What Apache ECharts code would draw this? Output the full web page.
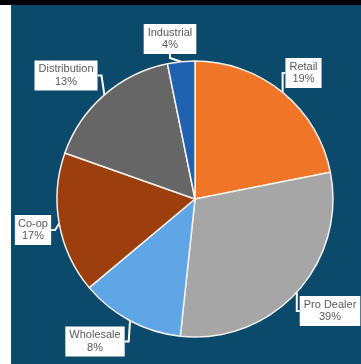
<!DOCTYPE html>
<html>
<head>
<meta charset="utf-8">
<script src="https://cdn.jsdelivr.net/npm/echarts@6/dist/echarts.min.js"></script>
<style>
html,body{margin:0;padding:0;background:#fff;}
#c{width:361px;height:364px;}
</style>
</head>
<body>
<div id="c"></div>
<script>
// Categories (clockwise from 12 o'clock)
var categories = ['Retail', 'Pro Dealer', 'Wholesale', 'Co-op', 'Distribution', 'Industrial'];
// Slice sizes as drawn in the picture (share of the circle, %)
var sliceValues = [21.9, 29.8, 12.2, 16.5, 16.4, 3.2];
// Percent labels printed on the chart
var percentLabels = ['19%', '39%', '8%', '17%', '13%', '4%'];
var colors = ['#F07526', '#A6A6A6', '#5EA6E6', '#9C3F0C', '#666666', '#1F62B0'];

// label box centres (layout only)
var labelPos = [[303.5, 73], [330, 311], [95, 341.5], [33, 230], [66, 75.5], [170, 39]];

var chart = echarts.init(document.getElementById('c'), null, {renderer: 'canvas'});
chart.setOption({
  backgroundColor: '#0B4A6B',
  animation: false,
  graphic: [
    {type: 'rect', shape: {x: 0, y: 0, width: 361, height: 5}, style: {fill: '#000'}, z: 10},
    {type: 'rect', shape: {x: 0, y: 5, width: 11, height: 359}, style: {fill: '#fff'}, z: 10}
  ],
  series: [{
    type: 'pie',
    left: 0,
    top: 0,
    width: 800,
    height: 364,
    center: [195, 199],
    radius: [0, 138],
    startAngle: 90,
    clockwise: true,
    data: categories.map(function (c, i) {
      return {name: c, value: sliceValues[i], itemStyle: {color: colors[i]}};
    }),
    itemStyle: {borderColor: '#F4F1EA', borderWidth: 1.5},
    label: {
      show: true,
      position: 'outside',
      overflow: 'none',
      formatter: function (p) { return p.name + '\n' + percentLabels[p.dataIndex]; },
      fontFamily: 'Liberation Sans, Arial, sans-serif',
      fontSize: 11,
      lineHeight: 12.5,
      color: '#595959',
      backgroundColor: '#ffffff',
      padding: [3, 4, 2, 4],
      align: 'center'
    },
    labelLine: {show: true, length: 4, length2: 4, lineStyle: {color: '#ffffff', width: 2}},
    labelLayout: function (p) {
      var pos = labelPos[p.dataIndex];
      return {x: pos[0], y: pos[1], align: 'center', verticalAlign: 'middle'};
    },
    emphasis: {disabled: true}
  }]
});
</script>
</body>
</html>
